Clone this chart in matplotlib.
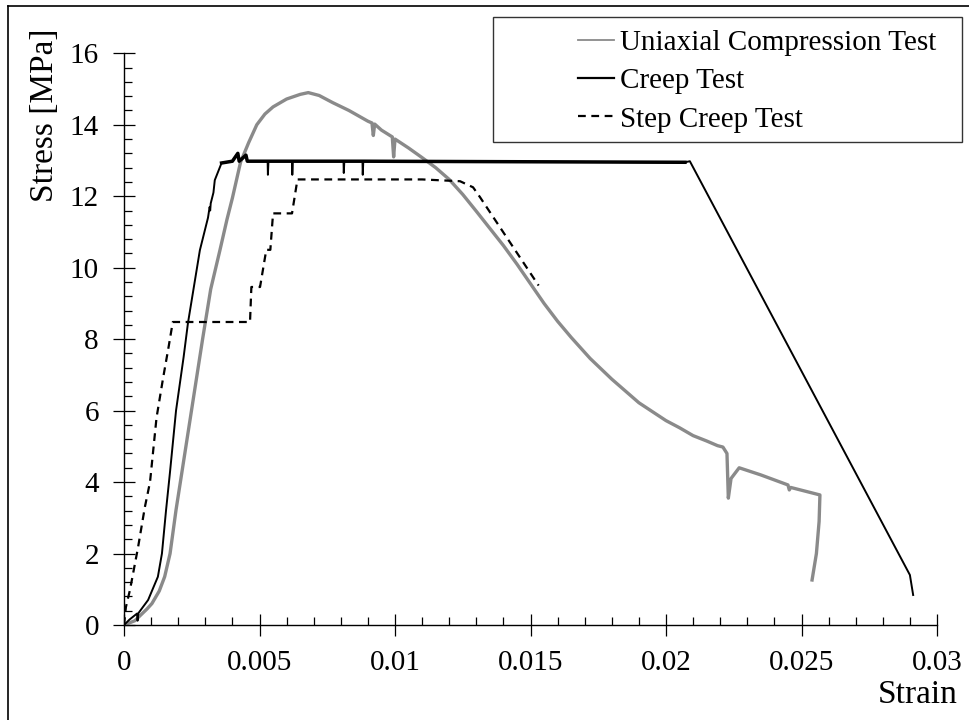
import numpy as np
import matplotlib
matplotlib.use("Agg")
import matplotlib.pyplot as plt
from matplotlib.ticker import MultipleLocator, FuncFormatter
from matplotlib.lines import Line2D

# strain / stress points
ucs_strain = [0.0, 0.0004, 0.00085, 0.00103, 0.0013, 0.0015, 0.0017, 0.00192, 0.00208,
              0.00249, 0.0029, 0.0032, 0.00354, 0.0038, 0.004, 0.0043, 0.0046, 0.0049,
              0.0052, 0.0055, 0.006, 0.0065, 0.0068, 0.0072, 0.0077, 0.0083, 0.009,
              0.00915, 0.0092, 0.00925, 0.0095, 0.0099, 0.00995, 0.01, 0.0105, 0.011,
              0.0115, 0.012, 0.0125, 0.013, 0.0135, 0.014, 0.0145, 0.015, 0.0155, 0.016,
              0.0165, 0.0172, 0.018, 0.019, 0.02, 0.0205, 0.021, 0.0215, 0.0219, 0.0221,
              0.02225, 0.0223, 0.0224, 0.0227, 0.0235, 0.0245, 0.02455, 0.0246, 0.02568,
              0.02565, 0.02555, 0.02539]
ucs_stress = [0.0, 0.12, 0.45, 0.6, 0.95, 1.35, 2.0, 3.22, 4.0,
              6.0, 8.0, 9.4, 10.49, 11.35, 11.95, 12.95, 13.5, 14.0,
              14.3, 14.5, 14.72, 14.85, 14.9, 14.82, 14.62, 14.4, 14.1,
              14.05, 13.7, 14.02, 13.85, 13.66, 13.1, 13.6, 13.35, 13.08,
              12.8, 12.47, 12.05, 11.58, 11.1, 10.62, 10.1, 9.55, 9.0, 8.5,
              8.05, 7.46, 6.88, 6.22, 5.72, 5.52, 5.3, 5.15, 5.02, 4.98,
              4.8, 3.55, 4.1, 4.4, 4.2, 3.92, 3.78, 3.85, 3.64,
              2.9, 2.0, 1.26]

creep_strain = [0.0, 0.0002, 0.00048, 0.0005, 0.00053, 0.00089, 0.00125, 0.0014, 0.00155,
                0.0017, 0.00192, 0.0022, 0.00236, 0.0028, 0.0031, 0.00316, 0.00318,
                0.0032, 0.0033, 0.00335, 0.0036, 0.004, 0.0042, 0.00425, 0.0045, 0.00455,
                0.0053, 0.00531, 0.00533, 0.0062, 0.00621, 0.00623, 0.0081, 0.00811,
                0.00813, 0.0088, 0.00881, 0.00883, 0.0207, 0.02088, 0.029, 0.02912]
creep_stress = [0.0, 0.15, 0.32, 0.12, 0.33, 0.7, 1.35, 2.0, 3.2,
                4.3, 6.0, 7.5, 8.45, 10.49, 11.4, 11.7, 11.6,
                11.8, 12.1, 12.45, 12.93, 12.98, 13.2, 12.98, 13.15, 12.98,
                12.98, 12.6, 12.98, 12.98, 12.6, 12.98, 12.98, 12.65,
                12.98, 12.98, 12.6, 12.98, 12.95, 12.98, 1.4, 0.84]

step_strain = [0.0, 0.00007, 0.00022, 0.00052, 0.00077, 0.00096, 0.0012, 0.00144, 0.00165,
               0.0018, 0.00465, 0.0047, 0.00502, 0.00525, 0.0054, 0.0055, 0.0062,
               0.0064, 0.011, 0.0124, 0.01288, 0.01314, 0.0153]
step_stress = [0.0, 0.5, 0.98, 2.18, 3.3, 4.0, 5.8, 6.9, 7.8,
               8.48, 8.48, 9.46, 9.46, 10.5, 10.5, 11.52, 11.52,
               12.47, 12.47, 12.42, 12.25, 11.97, 9.5]

series_labels = ["Uniaxial Compression Test", "Creep Test", "Step Creep Test"]

plt.rcParams["font.family"] = ["Liberation Serif", "DejaVu Serif"]
plt.rcParams["font.size"] = 20

fig = plt.figure(figsize=(9.69, 7.2), dpi=100)
ax = fig.add_axes([124 / 969, 1 - 625 / 720, (937 - 124) / 969, (625 - 53.3) / 720])

gray = "#8a8a8a"
dash = (0, (3.5, 2.5))
ax.plot(ucs_strain, ucs_stress, color=gray, lw=2.4, solid_joinstyle="round")
ax.plot(creep_strain, creep_stress, color="black", lw=1.4)
# the creep hold is noisy in the original, so it reads as a thicker line
hold = slice(creep_strain.index(0.0036), creep_strain.index(0.0207) + 1)
hold_base = [v if v > 12.9 else 12.98 for v in creep_stress[hold]]
ax.plot(creep_strain[hold], hold_base, color="black", lw=2.5)
ax.plot(step_strain, step_stress, color="black", lw=1.6, linestyle=dash)

ax.set_xlim(0, 0.03)
ax.set_ylim(0, 16)
ax.xaxis.set_major_locator(MultipleLocator(0.005))
ax.xaxis.set_minor_locator(MultipleLocator(0.001))
ax.yaxis.set_major_locator(MultipleLocator(2))
ax.yaxis.set_minor_locator(MultipleLocator(0.4))
ax.xaxis.set_major_formatter(FuncFormatter(lambda v, p: "%g" % round(v, 4)))
ax.yaxis.set_major_formatter(FuncFormatter(lambda v, p: "%g" % v))
ax.tick_params(which="major", direction="inout", length=16, width=0.9)
ax.tick_params(which="minor", direction="in", length=6, width=0.9)
ax.tick_params(axis="x", which="major", pad=10, labelsize=21)
ax.tick_params(axis="y", which="major", pad=10, labelsize=21)
for s in ["top", "right"]:
    ax.spines[s].set_visible(False)
for s in ["left", "bottom"]:
    ax.spines[s].set_linewidth(1.0)

fig.text(45 / 969, 1 - 115 / 720, "Stress [MPa]", rotation=90, ha="center", va="center", fontsize=24)
fig.text(958 / 969, 1 - 695 / 720, "Strain", ha="right", va="center", fontsize=24)

# legend box is much wider than its entries in the original
frame = plt.Rectangle((493 / 969, 1 - 142 / 720), 469 / 969, 125 / 720, transform=fig.transFigure,
                      fill=False, edgecolor="#333333", lw=1.0)
fig.patches.append(frame)
handles = [Line2D([], [], color=gray, lw=1.3),
           Line2D([], [], color="black", lw=1.6),
           Line2D([], [], color="black", lw=1.6, linestyle=dash)]
fig.legend(handles, series_labels, loc="upper left", bbox_to_anchor=(578 / 969, 1 - 30 / 720),
           bbox_transform=fig.transFigure, frameon=False, fontsize=21, borderpad=0,
           borderaxespad=0, handlelength=1.25, handletextpad=0.2, labelspacing=0.4)

# outer border (only left and top are visible in the original crop)
fig.add_artist(Line2D([8 / 969, 8 / 969], [0, 1 - 6 / 720], transform=fig.transFigure, color="black", lw=1.2))
fig.add_artist(Line2D([8 / 969, 1], [1 - 6 / 720, 1 - 6 / 720], transform=fig.transFigure, color="black", lw=1.2))

fig.savefig("out.png", dpi=100)
